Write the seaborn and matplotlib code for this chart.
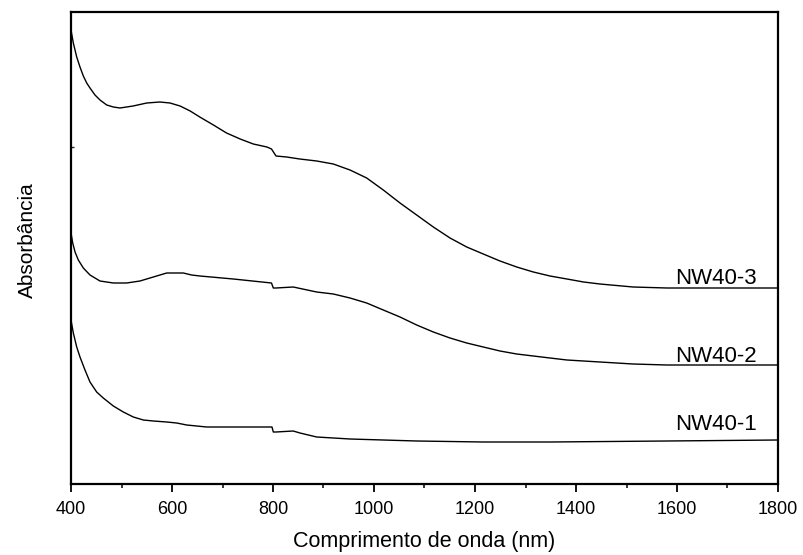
import matplotlib
matplotlib.use("Agg")
import matplotlib.pyplot as plt
import seaborn as sns
import pandas as pd
from matplotlib.ticker import MultipleLocator

sns.set_theme(style="white")
plt.rcParams['font.family'] = ['Liberation Sans', 'DejaVu Sans']

# NW40-3
wl_3 = [400, 404.6, 411.3, 417.8, 424.4, 431.1, 437.6, 447.5, 457.4, 470.7, 483.8, 497, 523,
        550, 576, 596, 616, 636, 655, 682, 708, 735, 761, 788, 797, 806, 827, 853,
        886.5, 919.4, 952.5, 985.5, 1018.4, 1051.5, 1084.5, 1117.5, 1150.5, 1183.6, 1216.4,
        1249.5, 1282.6, 1315.5, 1348.5, 1382, 1415, 1447.5, 1513, 1580, 1700, 1800]
abs_3 = [4.54, 4.41, 4.27, 4.17, 4.08, 4.01, 3.96, 3.89, 3.84, 3.79, 3.77, 3.76, 3.78,
         3.81, 3.82, 3.81, 3.78, 3.73, 3.67, 3.59, 3.51, 3.45, 3.40, 3.37, 3.35, 3.28, 3.27, 3.25,
         3.23, 3.20, 3.14, 3.06, 2.94, 2.81, 2.69, 2.57, 2.46, 2.37, 2.30,
         2.23, 2.17, 2.12, 2.08, 2.05, 2.02, 2.00, 1.97, 1.96, 1.96, 1.96]

# NW40-2
wl_2 = [400, 403.4, 408, 414.5, 424.4, 437.6, 457.4, 483.8, 510.2, 536.6, 563, 589.5, 622.4,
        638.8, 655.4, 721.4, 797, 800.6, 806, 840, 886.5, 919.4, 952.5, 985.5, 1018.4, 1051.5,
        1084.5, 1117.5, 1150.5, 1183.6, 1216.4, 1249.5, 1282.6, 1315.5, 1348.5, 1382, 1447.5,
        1513, 1580, 1700, 1800]
abs_2 = [2.51, 2.41, 2.32, 2.24, 2.16, 2.09, 2.03, 2.01, 2.01, 2.03, 2.07, 2.11, 2.11,
         2.09, 2.08, 2.05, 2.01, 1.96, 1.96, 1.97, 1.92, 1.90, 1.86, 1.81, 1.74, 1.67,
         1.59, 1.52, 1.46, 1.41, 1.37, 1.33, 1.30, 1.28, 1.26, 1.24, 1.22,
         1.20, 1.19, 1.19, 1.19]

# NW40-1
wl_1 = [400, 404.6, 411.3, 417.8, 427.7, 437.6, 450.8, 463.9, 483.8, 503.6, 523.4, 543.2, 563,
        589.5, 609.3, 629.1, 648.9, 668.7, 721.4, 787.5, 798, 800.6, 806, 840, 853.4, 886.5,
        919.4, 952.5, 1018, 1084.5, 1216, 1348.5, 1580, 1800]
abs_1 = [1.64, 1.51, 1.37, 1.27, 1.14, 1.02, 0.92, 0.86, 0.78, 0.72, 0.67, 0.64, 0.63,
         0.62, 0.61, 0.59, 0.58, 0.57, 0.57, 0.57, 0.57, 0.52, 0.52, 0.53, 0.51, 0.47,
         0.46, 0.45, 0.44, 0.43, 0.42, 0.42, 0.43, 0.44]

labels = ["NW40-3", "NW40-2", "NW40-1"]
label_y = [2.00, 1.22, 0.54]

series = [(wl_3, abs_3), (wl_2, abs_2), (wl_1, abs_1)]

fig = plt.figure(figsize=(8.04, 5.55), dpi=100)
ax = fig.add_axes([71/804, 1-484/555, 707/804, 472/555])

for (wl, ab), lab in zip(series, labels):
    df = pd.DataFrame({"wl": wl, "abs": ab})
    sns.lineplot(data=df, x="wl", y="abs", color="black", linewidth=1.0, ax=ax, sort=False)

for lab, ly in zip(labels, label_y):
    ax.text(1758, ly, lab, fontsize=16, ha="right", va="baseline", color="black")

ax.set_xlim(400, 1800)
ax.set_ylim(0, 4.72)
ax.xaxis.set_major_locator(MultipleLocator(200))
ax.xaxis.set_minor_locator(MultipleLocator(100))
ax.tick_params(axis="x", which="major", direction="out", length=6, width=1.3,
               labelsize=13, pad=6, bottom=True, colors="black")
ax.tick_params(axis="x", which="minor", direction="out", length=3, width=1.3, bottom=True)
ax.set_yticks([3.37])
ax.set_yticklabels([])
ax.tick_params(axis="y", which="major", direction="in", length=2, width=1.0, left=True)

for s in ax.spines.values():
    s.set_linewidth(1.6)
    s.set_color("black")

ax.set_xlabel("Comprimento de onda (nm)", fontsize=15.5, color="black")
ax.set_ylabel("Absorbância", fontsize=15, color="black")
ax.xaxis.set_label_coords(0.499, -0.0996)
ax.yaxis.set_label_coords(-0.062, 0.517)
ax.yaxis.label.set_verticalalignment("center")

fig.savefig("out.png", dpi=100)
